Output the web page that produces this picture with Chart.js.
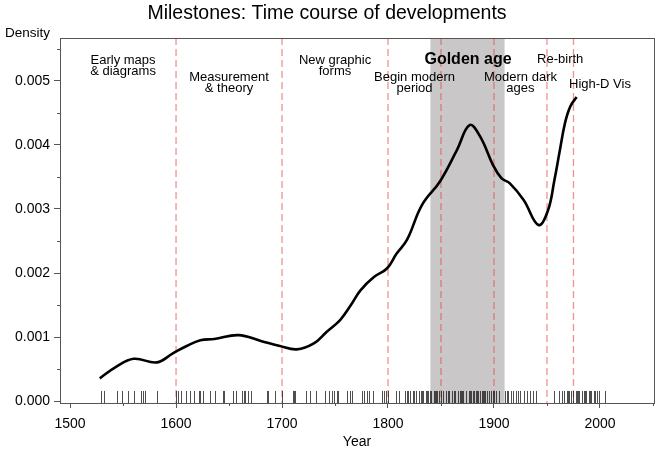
<!DOCTYPE html>
<html><head><meta charset="utf-8">
<script src="https://cdn.jsdelivr.net/npm/chart.js@4/dist/chart.umd.min.js"></script>
<style>html,body{margin:0;padding:0;background:#fff;}canvas{display:block;}</style>
</head><body>
<canvas id="c" width="657" height="449"></canvas>
<script>
// ---- data ----
const densityYears = [1528,1543,1560,1582,1597,1610,1623,1636,1659,1680,1698,1714,1730,1742,1755,1765,1774,1787,1799,1808,1818,1832,1849,1865,1877,1887,1899,1907,1915,1928,1942,1951,1957,1962,1967,1972,1978];
const densityValues = [0.000355,0.00053,0.00066,0.000605,0.000745,0.00086,0.00095,0.00097,0.00103,0.00094,0.00086,0.000808,0.0009,0.00108,0.00127,0.0015,0.00173,0.00194,0.00207,0.0023,0.00252,0.00306,0.00343,0.00392,0.00431,0.00413,0.00369,0.00348,0.0034,0.00314,0.00275,0.00298,0.00345,0.0039,0.00434,0.0046,0.00475];
const rugYears = [1529,1532,1544,1549,1555,1560,1567,1569,1571,1582,
 1600,1602,1605,1609,1613,1617,1622,1623,1625,1632,1637,1644,1645,1654,1657,1662,1664,1665,1668,1671,1686,1687,1693,
 1700,1710,1711,1712,1723,1726,1732,1741,1744,1747,1749,1752,1753,1761,1764,1766,
 1775,1777,1780,1782,1786,1794,1796,1798,1800,1808,1810,1816,1818,1819,1821,1824,1825,1826,1829,1831,1832,1833,1836,1837,1838,1840,1841,1843,1844,1845,1846,1848,
 1850,1852,1855,1857,1858,1860,1862,1863,1866,1868,1869,1870,1871,1874,1876,1877,1878,1880,1881,1883,1884,1885,1887,1889,1890,1891,1892,1893,1895,1897,1899,
 1900,1902,1905,1910,1912,1913,1916,1918,1921,1923,1925,1928,1931,1934,1937,1940,
 1957,1961,1964,1966,1969,1970,1971,1973,1975,1977,1978,1979,1980,1983,1985,1986,1987,1990,1991,1992,1994,1995,1997,1999,2005];
const eraBreakYears = [1600,1700,1800,1850,1900,1950,1975];
const goldenAgeSpan = [1840,1910];
const eraNames = [["Early maps","& diagrams"],["Measurement","& theory"],["New graphic","forms"],["Begin modern","period"],["Golden age"],["Modern dark","ages"],["Re-birth"],["High-D Vis"]];
const eraCenters = [1550,1650,1750,1825,1875.5,1925,1962.5,2000];
const xTickValues = [1500,1600,1700,1800,1900,2000];
const xMinorTicks = [1550,1650,1750,1850,1950,2050];
const yTickValues = [0,0.001,0.002,0.003,0.004,0.005];
const yMinorTicks = [0.0005,0.0015,0.0025,0.0035,0.0045,0.0055];

// ---- layout / style (not data) ----
const eraLabelTop = [60.5,77.5,60.5,77.5,60,77.5,59.5,84.5];
const eraBold = [false,false,false,false,true,false,false,false];
const FONT = "'Liberation Sans', Arial, Helvetica, sans-serif";

const overlay = {
  id: 'overlay',
  beforeDatasetsDraw(chart) {
    const {ctx, chartArea: a, scales: {x}} = chart;
    ctx.save();
    const x0 = x.getPixelForValue(goldenAgeSpan[0]), x1 = x.getPixelForValue(goldenAgeSpan[1]);
    ctx.fillStyle = '#c9c7c7';
    ctx.fillRect(x0, a.top, x1 - x0, a.bottom - a.top);
    ctx.strokeStyle = 'rgba(232,72,72,0.6)';
    ctx.lineWidth = 1.3;
    ctx.setLineDash([7,4]);
    eraBreakYears.forEach(yr => {
      const px = x.getPixelForValue(yr);
      ctx.beginPath(); ctx.moveTo(px, a.top); ctx.lineTo(px, a.bottom); ctx.stroke();
    });
    ctx.setLineDash([]);
    ctx.strokeStyle = 'rgba(20,20,20,0.75)';
    ctx.lineWidth = 1;
    const h = (a.bottom - a.top) * 0.033;
    rugYears.forEach(yr => {
      const px = Math.round(x.getPixelForValue(yr)) + 0.5;
      ctx.beginPath(); ctx.moveTo(px, a.bottom); ctx.lineTo(px, a.bottom - h); ctx.stroke();
    });
    ctx.restore();
  },
  afterDraw(chart) {
    const {ctx, chartArea: a, scales: {x, y}} = chart;
    ctx.save();
    ctx.strokeStyle = '#555';
    ctx.lineWidth = 1;
    ctx.strokeRect(Math.round(a.left) + 0.5, Math.round(a.top) + 0.5, Math.round(a.right - a.left), Math.round(a.bottom - a.top));
    ctx.beginPath();
    xMinorTicks.forEach(v => {
      if (v > x.max) return;
      const px = Math.round(x.getPixelForValue(v)) + 0.5;
      ctx.moveTo(px, a.bottom); ctx.lineTo(px, a.bottom + 3);
    });
    yMinorTicks.forEach(v => {
      if (v > y.max) return;
      const py = Math.round(y.getPixelForValue(v)) + 0.5;
      ctx.moveTo(a.left, py); ctx.lineTo(a.left - 3, py);
    });
    ctx.stroke();
    ctx.fillStyle = '#000';
    ctx.textAlign = 'center';
    ctx.textBaseline = 'middle';
    eraNames.forEach((lines, i) => {
      const px = x.getPixelForValue(eraCenters[i]);
      ctx.font = eraBold[i] ? `bold 16px ${FONT}` : `13px ${FONT}`;
      lines.forEach((t, j) => ctx.fillText(t, px, eraLabelTop[i] + j * 11));
    });
    ctx.font = `13.5px ${FONT}`;
    ctx.textAlign = 'left';
    ctx.fillText('Density', 5, 33.5);
    ctx.restore();
  }
};

const chart = new Chart(document.getElementById('c'), {
  type: 'line',
  data: {
    datasets: [{
      label: 'Density',
      data: densityYears.map((yr, i) => ({x: yr, y: densityValues[i]})),
      borderColor: '#000',
      borderWidth: 2.6,
      pointRadius: 0,
      fill: false,
      tension: 0.4
    }]
  },
  options: {
    responsive: false,
    animation: false,
    devicePixelRatio: 1,
    layout: {padding: {left: 0, right: 3, top: 0, bottom: 0}},
    plugins: {
      legend: {display: false},
      tooltip: {enabled: false},
      title: {
        display: true,
        text: 'Milestones: Time course of developments',
        color: '#000',
        font: {family: FONT, size: 19.5, weight: 'normal'},
        padding: {top: 2, bottom: 12.6}
      }
    },
    scales: {
      x: {
        type: 'linear',
        min: 1490.5,
        max: 2051,
        afterBuildTicks: s => { s.ticks = xTickValues.map(v => ({value: v})); },
        afterFit: s => { s.height = 46; },
        grid: {display: true, drawOnChartArea: false, drawTicks: true, tickLength: 5, color: '#555'},
        border: {display: true, color: '#555'},
        ticks: {color: '#000', font: {family: FONT, size: 14}, padding: 8, maxRotation: 0, autoSkip: false,
          callback: v => String(v)},
        title: {display: true, text: 'Year', color: '#000', font: {family: FONT, size: 14, lineHeight: 1.0}, padding: {top: 0, bottom: 0}}
      },
      y: {
        type: 'linear',
        min: -0.00003,
        max: 0.00567,
        afterBuildTicks: s => { s.ticks = yTickValues.map(v => ({value: v})); },
        afterFit: s => { s.width = 60; },
        grid: {display: true, drawOnChartArea: false, drawTicks: true, tickLength: 6, color: '#555'},
        border: {display: true, color: '#555'},
        ticks: {color: '#000', font: {family: FONT, size: 14}, padding: 4, autoSkip: false,
          callback: v => v.toFixed(3)}
      }
    }
  },
  plugins: [overlay]
});
</script>
</body></html>
